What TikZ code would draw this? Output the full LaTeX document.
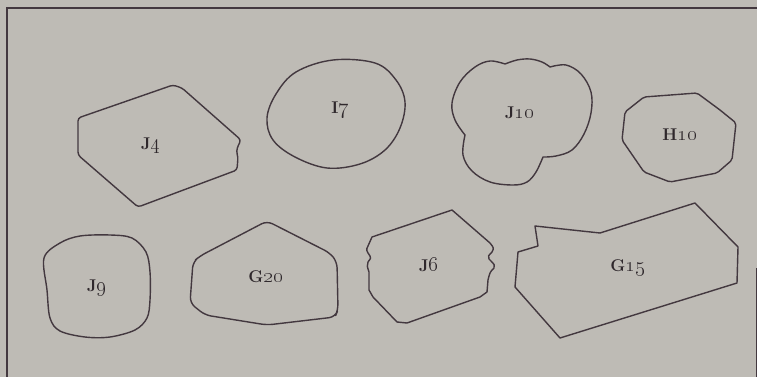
\documentclass[tikz,border=0pt]{standalone}
\usepackage{xcolor}
\usepackage{graphicx}
\definecolor{paper}{HTML}{BEBBB5}
\definecolor{ink}{HTML}{43383F}
\definecolor{txt}{HTML}{2F282C}
\newcommand{\dgt}[1]{\scalebox{1.25}{\oldstylenums{#1}}}
\begin{document}
\begin{tikzpicture}[x=1pt,y=1pt,
  outline/.style={draw=ink,line width=1.4pt,line join=round,line cap=round},
  lbl/.style={text=txt,font=\fontsize{17}{19}\selectfont\bfseries,inner sep=0pt}]
\useasboundingbox (0,0) rectangle (757,-377);
\fill[paper] (0,0) rectangle (757,-377);
% frame
\coordinate (fa) at (7,-377);
\coordinate (fb) at (7,-8);
\coordinate (fc) at (757,-8);
\coordinate (fd) at (756.5,-268);
\coordinate (fe) at (756.5,-377);
\draw[ink,line width=1.2pt] (fa) -- (fb) -- (fc);
\draw[ink,line width=0.8pt] (fd) -- (fe);
% J4
\draw[outline,rounded corners=3pt] (78,-155) -- (78,-118) -- (173,-85) -- (182,-88) -- (241,-140)
  .. controls (238,-146) and (236,-150) .. (238,-157) -- (237,-170) -- (138,-207) -- cycle;
\node[lbl] (j4) at (151,-146) {J\dgt{4}};
% I7
\draw[outline] plot[smooth cycle,tension=0.6] coordinates {(333,-60) (375,-63) (396,-80) (405,-102) (400,-128) (385,-150) (360,-164) (327,-168) (295,-157) (273,-140) (267,-118) (276,-94) (296,-72)};
\node[lbl] (i7) at (340,-110) {I\dgt{7}};
% J10
\draw[outline] plot[smooth,tension=0.6] coordinates {(465,-135) (455,-120) (452,-103) (460,-82) (475,-67) (490,-61) (505,-64)}
  -- plot[smooth,tension=0.6] coordinates {(505,-64) (517,-60) (530,-59) (542,-62) (550,-67)}
  -- plot[smooth,tension=0.6] coordinates {(550,-67) (566,-65) (581,-74) (591,-92) (591,-113) (584,-134) (572,-150) (556,-156) (543,-157)}
  -- plot[smooth,tension=0.6] coordinates {(543,-157) (536,-172) (527,-182) (513,-185) (490,-182) (472,-171) (463,-155) (465,-135)};
\node[lbl] (j10) at (520,-113) {J\dgt{10}};
% H10
\draw[outline,rounded corners=2pt] (644,-97) -- (697,-93) -- (720,-110) -- (736,-123) -- (732,-160) -- (717,-173) -- (670,-182) -- (644,-172) -- (622,-140) -- (625,-112) -- cycle;
\node[lbl] (h10) at (680,-135) {H\dgt{10}};
% J9
\draw[outline] plot[smooth cycle,tension=0.55] coordinates {(44,-258) (60,-243) (80,-236) (110,-235) (132,-238) (146,-252) (150,-272) (150,-300) (147,-318) (135,-330) (110,-337) (85,-337) (60,-331) (50,-318) (47,-290)};
\node[lbl] (j9) at (97,-288) {J\dgt{9}};
% G20
\draw[outline,rounded corners=6pt] (193,-262) -- (190,-303) -- (205,-315) -- (267,-325) -- (335,-317) -- (338,-310) -- (337,-262) -- (330,-253) -- (267,-221) -- (200,-256) -- cycle;
\node[lbl] (g20) at (266,-277) {G\dgt{20}};
% J6
\draw[outline] (372,-237) -- (452,-210) -- (490,-243)
  .. controls (494,-248) .. (492,-252) .. controls (488,-256) .. (489,-259)
  .. controls (495,-265) .. (494,-268) .. controls (490,-272) .. (488,-280)
  -- (487,-292) -- (480,-297) -- (407,-323) -- (397,-322) -- (373,-297) -- (369,-290) -- (369,-272)
  .. controls (367,-266) .. (368,-262) .. controls (371,-258) .. (370,-256)
  .. controls (366,-250) .. (368,-246) -- cycle;
\node[lbl] (j6) at (429,-265) {J\dgt{6}};
% G15
\draw[outline] (535,-226) -- (600,-233) -- (695,-203) -- (738,-247) -- (737,-283) -- (560,-338) -- (515,-287) -- (518,-252) -- (538,-246) -- cycle;
\node[lbl] (g15) at (628,-268) {G\dgt{15}};
\end{tikzpicture}
\end{document}
